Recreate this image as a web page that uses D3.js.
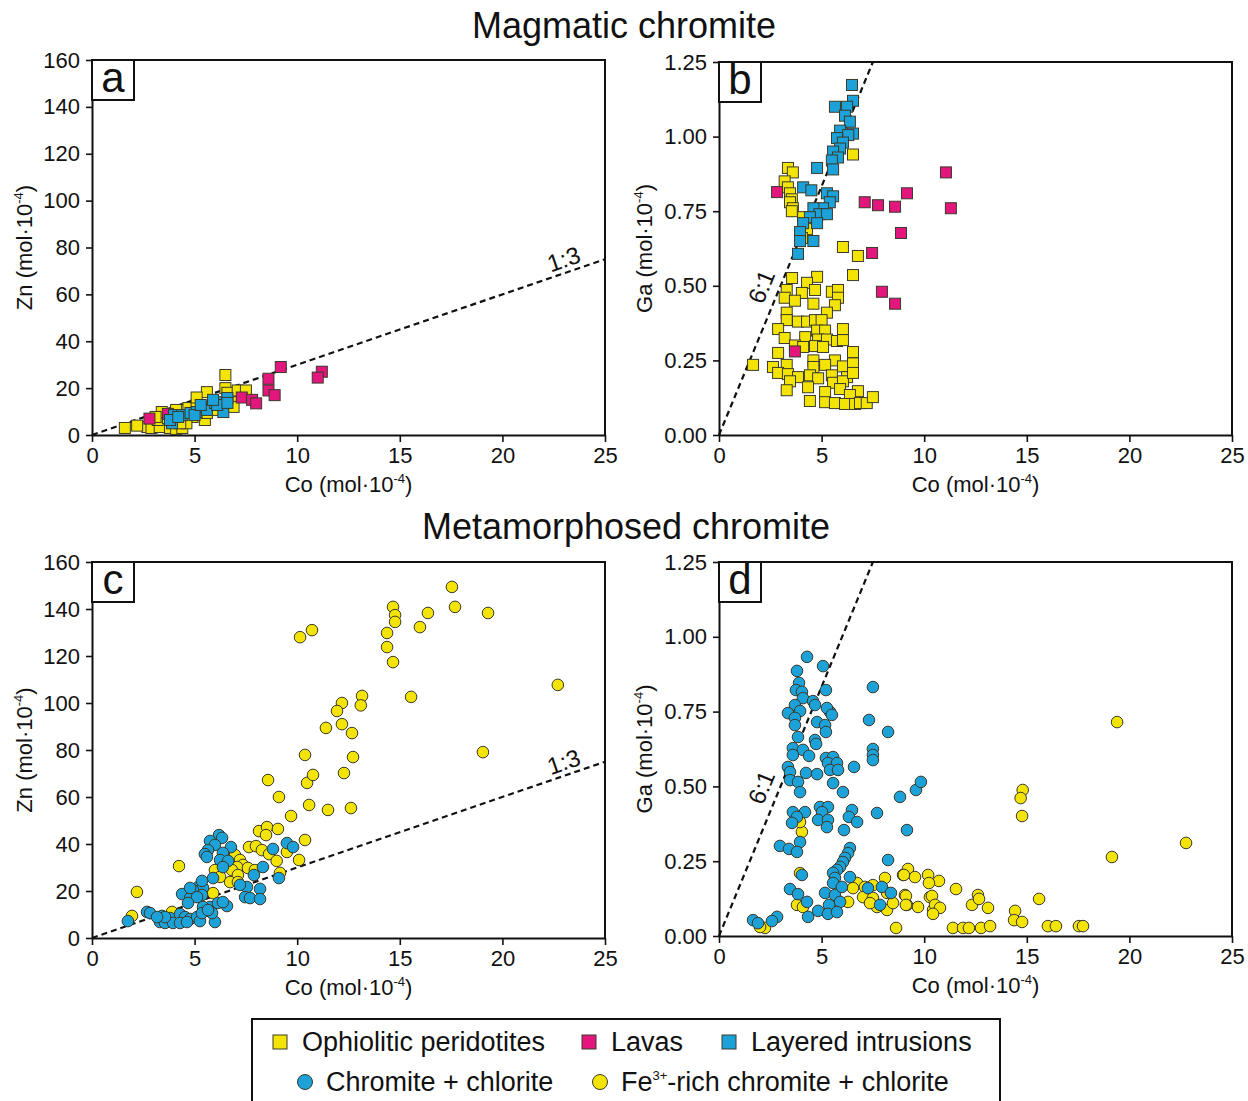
<!DOCTYPE html>
<html>
<head>
<meta charset="utf-8">
<script src="https://cdn.jsdelivr.net/npm/d3@7"></script>
<style>
body { margin: 0; background: #fff; }
text { font-family: "Liberation Sans", Arial, sans-serif; fill: #111; }
</style>
</head>
<body>
<script>
// ---- data: [Co, Zn] or [Co, Ga], all in mol·10^-4 ----
var coTicks = [0, 5, 10, 15, 20, 25];
var znTicks = [0, 20, 40, 60, 80, 100, 120, 140, 160];
var gaTicks = [0, 0.25, 0.5, 0.75, 1.0, 1.25];
var legendSquares = ["Ophiolitic peridotites", "Lavas", "Layered intrusions"];
var legendCircles = ["Chromite + chlorite", "-rich chromite + chlorite"];

// panel a - magmatic, Zn vs Co
var aOphiolitic = [[1.6,3],[2.7,3.4],[2.9,3],[3.3,3.4],[3.8,3],[4.1,2.6],[4.4,3],[3.2,6.4],[3.7,7.3],[3.4,9.8],
  [4.1,10.7],[4.3,8.5],[4.7,11.5],[5.1,12.8],[5.6,18.3],[5.5,6.4],[5.6,9.4],[6.5,25.6],[6.5,20],[6.6,18],
  [6.8,14],[6.9,12],[7.1,19],[7.5,19],[6.1,10.7],[5.9,12.8],[4.9,7.7],[4.6,5],[3.1,7.7],[5.1,16],[4.3,5],[2.2,4]];
var aLavas = [[9.2,29],[8.6,24],[8.6,19],[8.9,17],[7.3,16],[7.8,15],[8.0,13.5],[11.2,27],[11.0,24.5],[2.8,7],[3.7,9]];
var aLayered = [[3.9,5],[4.0,8.5],[4.4,8.5],[4.8,9.4],[5.1,9.8],[5.5,12],[5.6,10.7],[6.0,13.7],[6.2,14],[6.6,15.8],
  [6.4,9.8],[6.1,12.8],[5.0,8.5],[5.9,15],[3.8,6.4],[4.2,7.7],[5.3,12.8],[6.6,13.7]];

// panel b - magmatic, Ga vs Co
var bOphiolitic = [[3.36,0.895],[3.6,0.88],[3.2,0.85],[3.36,0.83],[3.46,0.81],[3.55,0.79],[3.46,0.78],[3.6,0.76],[3.55,0.75],
  [6.53,0.94],[4.1,0.73],[4.29,0.69],[4.04,0.66],[6.04,0.63],[6.77,0.6],[1.66,0.235],[3.56,0.526],[4.78,0.53],[4.29,0.51],
  [3.3,0.486],[4.04,0.476],[4.68,0.486],[5.5,0.48],[5.8,0.486],[5.8,0.46],[3.2,0.46],[3.7,0.45],[4.6,0.44],[5.65,0.435],
  [6.53,0.536],[5.26,0.41],[3.3,0.41],[3.3,0.385],[3.85,0.38],[4.29,0.38],[4.68,0.385],[5.0,0.385],[2.88,0.355],[4.78,0.35],
  [5.17,0.35],[6.04,0.355],[3.2,0.325],[4.2,0.328],[4.83,0.32],[5.26,0.32],[5.75,0.315],[6.04,0.318],[3.7,0.3],[4.1,0.295],
  [4.68,0.298],[5.07,0.295],[2.88,0.275],[6.53,0.278],[4.6,0.25],[5.65,0.25],[6.04,0.23],[5.17,0.235],[3.3,0.235],[6.53,0.24],
  [2.63,0.228],[4.6,0.228],[2.88,0.208],[3.36,0.204],[3.85,0.194],[4.43,0.2],[4.83,0.19],[5.5,0.2],[6.24,0.194],[3.46,0.18],
  [5.56,0.175],[6.04,0.18],[6.53,0.208],[4.34,0.16],[5.17,0.144],[5.9,0.154],[6.77,0.147],[3.3,0.15],[6.38,0.134],[4.43,0.114],
  [5.17,0.11],[5.65,0.107],[6.14,0.104],[6.63,0.104],[6.87,0.107],[7.2,0.107],[7.5,0.127]];
var bLavas = [[2.83,0.814],[11.06,0.88],[11.3,0.76],[7.1,0.78],[7.75,0.77],[8.58,0.765],[9.16,0.81],[8.87,0.677],
  [7.46,0.61],[7.94,0.48],[8.58,0.44],[3.7,0.28]];
var bLayered = [[6.48,1.173],[6.53,1.12],[5.65,1.10],[6.24,1.10],[6.14,1.07],[6.38,1.05],[5.9,1.02],[6.53,1.01],[6.3,1.005],
  [5.75,0.995],[6.04,0.98],[5.9,0.96],[5.56,0.95],[5.8,0.93],[5.5,0.92],[5.56,0.89],[4.78,0.895],[4.1,0.83],[4.5,0.82],
  [5.26,0.81],[5.56,0.8],[5.4,0.78],[5.07,0.76],[4.6,0.76],[4.9,0.74],[5.26,0.74],[4.43,0.73],[4.78,0.71],[4.1,0.71],
  [3.95,0.68],[4.6,0.65],[3.95,0.65],[3.85,0.607]];

// panel c - metamorphosed, Zn vs Co
var cFeRich = [[17.54,149.4],[14.67,140.9],[17.69,140.9],[19.3,138.3],[16.37,138.3],[14.77,137.4],[14.77,134.5],[15.98,132.3],
  [14.38,129.8],[14.38,123.8],[14.67,117.4],[22.7,107.7],[15.55,102.6],[19.05,79.1],[10.14,128],[10.72,131],[13.16,103],
  [13.1,99],[12.18,100],[11.94,96.6],[11.4,89.4],[12.18,91],[12.67,87.2],[10.38,77.9],[12.72,77],[8.58,67.2],[10.48,66],
  [10.77,69.4],[12.28,70.2],[9.11,60],[10.58,56.6],[11.5,54.5],[12.62,55.3],[9.7,51.9],[8.14,45.5],[8.53,47.2],[8.48,43.8],
  [9.06,46.4],[10.38,41.7],[7.65,38.7],[7.99,39.1],[8.28,37.4],[9.5,36.6],[8.63,35.7],[9.0,32.8],[10.09,33.2],[6.97,35.3],
  [7.21,33.2],[7.36,31.1],[7.07,30.2],[7.6,29.8],[6.82,28.9],[5.99,28.9],[7.11,26.8],[6.24,26],[6.73,23.8],[7.11,23.8],
  [9.16,27.7],[4.24,30.6],[2.19,19.6],[1.95,9.4],[5.9,19.1],[3.9,11.1],[7.94,28.9]];
var cChlorite = [[6.19,43.8],[6.34,42.6],[5.75,41.3],[5.99,39.6],[6.77,38.7],[5.65,37.4],[5.5,35.7],[5.6,34.5],[6.38,36.2],
  [6.24,33.2],[6.63,32.8],[6.38,30.2],[8.82,37.9],[9.5,40.4],[9.8,38.7],[8.33,30.2],[7.89,26.8],[5.9,25.5],[9.11,25.5],
  [7.55,21.7],[7.21,22.6],[8.19,20.9],[7.46,17.4],[7.7,17],[8.19,16.6],[5.17,21.7],[5.41,21.3],[4.92,20.4],[5.36,18.3],
  [4.39,18.7],[4.78,17],[5.12,17.4],[4.68,14.9],[5.75,13.2],[6.14,14.9],[6.58,13.6],[5.41,13.2],[5.99,6.8],[2.68,11.1],
  [2.83,10.6],[1.75,7.2],[3.41,9.4],[3.31,6.8],[3.8,8.5],[3.56,6.4],[3.95,6.4],[4.29,10.2],[4.53,8.9],[4.78,8.1],[5.12,8.9],
  [5.26,7.2],[4.29,6.4],[4.63,6.8],[5.85,10.6],[5.36,10.6],[5.65,11.9],[3.56,8.9],[3.17,8.9],[6.38,15.3],[4.78,21.3],[5.36,24.3]];

// panel d - metamorphosed, Ga vs Co
var dFeRich = [[4.04,0.348],[3.95,0.381],[3.95,0.21],[3.8,0.104],[4.09,0.097],[2.24,0.027],[2.0,0.03],[6.29,0.114],[6.73,0.177],
  [7.11,0.164],[7.5,0.17],[7.02,0.13],[7.5,0.127],[8.09,0.194],[7.7,0.097],[8.19,0.087],[8.48,0.11],[8.97,0.204],[9.21,0.224],
  [9.55,0.197],[9.06,0.137],[9.16,0.104],[9.7,0.097],[10.19,0.204],[10.72,0.184],[10.28,0.13],[10.43,0.087],[8.63,0.027],
  [6.53,0.16],[7.36,0.11],[8.19,0.144],[19.4,0.715],[14.8,0.488],[14.7,0.461],[14.77,0.401],[22.76,0.311],[19.15,0.264],
  [9.01,0.204],[10.23,0.177],[11.55,0.157],[9.11,0.134],[10.38,0.134],[12.62,0.137],[9.11,0.104],[10.53,0.104],[10.77,0.094],
  [10.43,0.074],[12.33,0.104],[12.67,0.124],[13.11,0.094],[15.6,0.124],[14.43,0.084],[14.38,0.053],[14.77,0.047],[11.4,0.027],
  [11.89,0.027],[12.18,0.027],[12.77,0.027],[13.21,0.033],[16.03,0.033],[16.42,0.033],[17.54,0.033],[17.74,0.033]];
var dChlorite = [[4.29,0.933],[5.07,0.902],[3.8,0.886],[3.9,0.846],[3.75,0.822],[4.04,0.816],[5.21,0.822],[4.09,0.795],[4.58,0.785],
  [3.7,0.772],[4.68,0.772],[3.36,0.745],[3.95,0.752],[3.7,0.729],[5.41,0.749],[5.26,0.762],[5.5,0.739],[7.5,0.832],[7.31,0.722],
  [8.24,0.682],[3.7,0.705],[4.78,0.715],[5.17,0.705],[5.21,0.682],[3.85,0.665],[4.68,0.655],[4.73,0.642],[3.6,0.628],[4.09,0.622],
  [3.6,0.605],[4.39,0.602],[7.5,0.625],[7.5,0.605],[7.5,0.588],[5.21,0.595],[5.56,0.598],[5.31,0.578],[5.75,0.578],[5.41,0.555],
  [5.8,0.555],[6.58,0.565],[3.36,0.565],[3.46,0.548],[4.24,0.545],[4.78,0.541],[3.46,0.521],[3.85,0.515],[3.95,0.481],[5.56,0.511],
  [6.04,0.481],[8.82,0.465],[9.6,0.488],[9.84,0.515],[3.6,0.414],[4.19,0.414],[3.8,0.398],[3.56,0.378],[4.92,0.431],[5.31,0.431],
  [5.02,0.414],[4.83,0.388],[5.31,0.388],[5.26,0.364],[6.48,0.421],[6.33,0.398],[6.73,0.381],[7.7,0.411],[6.09,0.354],[9.16,0.354],
  [3.95,0.314],[2.97,0.301],[3.41,0.291],[3.8,0.281],[6.38,0.294],[6.29,0.277],[6.14,0.261],[6.04,0.247],[5.9,0.231],[5.75,0.221],
  [5.56,0.211],[5.65,0.194],[5.56,0.177],[8.24,0.254],[4.04,0.204],[3.46,0.157],[3.85,0.14],[4.29,0.114],[5.17,0.144],[5.65,0.137],
  [5.9,0.114],[5.36,0.104],[4.83,0.084],[5.31,0.074],[5.75,0.08],[4.34,0.064],[7.94,0.164],[8.38,0.144],[7.85,0.104],[1.66,0.053],
  [1.9,0.043],[2.83,0.064],[2.58,0.05],[7.26,0.16],[5.99,0.164],[6.38,0.197]];

var YELLOW = "#f4e406", MAGENTA = "#e2167c", BLUE = "#1ca2d8", EDGE = "#3a3a2a";

var svg = d3.select("body").append("svg")
  .attr("width", 1248)
  .attr("height", 1101);

// unit label "X (mol·10^-4)" with superscript
function unitLabel(sel, el) {
  sel.append("tspan").text(el + " (mol·10");
  sel.append("tspan").attr("dy", -9).attr("font-size", "13px").text("-4");
  sel.append("tspan").attr("dy", 9).text(")");
}

function panel(p) {
  var x = d3.scaleLinear().domain([0, 25]).range([p.left, p.right]);
  var y = d3.scaleLinear().domain([0, p.ymax]).range([p.bottom, p.top]);
  var g = svg.append("g");

  // top + right frame
  g.append("path")
    .attr("d", "M" + p.left + "," + p.top + "H" + p.right + "V" + p.bottom)
    .attr("fill", "none").attr("stroke", "#111").attr("stroke-width", 2);

  var xa = g.append("g").attr("transform", "translate(0," + p.bottom + ")")
    .call(d3.axisBottom(x).tickValues(coTicks).tickSize(7).tickSizeOuter(0).tickPadding(5));
  var ya = g.append("g").attr("transform", "translate(" + p.left + ",0)")
    .call(d3.axisLeft(y).tickValues(p.ticks).tickSize(6).tickSizeOuter(0).tickPadding(6)
      .tickFormat(p.fmt));
  [xa, ya].forEach(function(a) {
    a.select(".domain").attr("stroke", "#111").attr("stroke-width", 2);
    a.selectAll(".tick line").attr("stroke", "#111").attr("stroke-width", 1.6);
    a.selectAll(".tick text").attr("font-size", "22px").attr("fill", "#111")
      .attr("font-family", "Liberation Sans, Arial, sans-serif");
  });

  // ratio line, clipped to the plot
  var end = p.ratio(25) > p.ymax ? [p.inv(p.ymax), p.ymax] : [25, p.ratio(25)];
  g.append("line")
    .attr("x1", x(0)).attr("y1", y(0))
    .attr("x2", x(end[0])).attr("y2", y(end[1]))
    .attr("stroke", "#111").attr("stroke-width", 2.2).attr("stroke-dasharray", "6,4");
  var ang = Math.atan2(y(end[1]) - y(0), x(end[0]) - x(0)) * 180 / Math.PI;
  g.append("text")
    .attr("transform", "translate(" + x(p.labelAt[0]) + "," + y(p.labelAt[1]) + ") rotate(" + ang + ")")
    .attr("y", p.labelDy).attr("text-anchor", "middle").attr("font-size", "24px")
    .text(p.ratioText);

  // marks
  p.series.forEach(function(s) {
    if (s.shape === "square") {
      g.selectAll(null).data(s.data).enter().append("rect")
        .attr("x", function(d) { return x(d[0]) - 5.5; })
        .attr("y", function(d) { return y(d[1]) - 5.5; })
        .attr("width", 11).attr("height", 11)
        .attr("fill", s.color).attr("stroke", EDGE).attr("stroke-width", 1);
    } else {
      g.selectAll(null).data(s.data).enter().append("circle")
        .attr("cx", function(d) { return x(d[0]); })
        .attr("cy", function(d) { return y(d[1]); })
        .attr("r", 5.8)
        .attr("fill", s.color).attr("stroke", EDGE).attr("stroke-width", 1);
    }
  });

  // panel letter box
  g.append("rect").attr("x", p.left).attr("y", p.top).attr("width", 42).attr("height", 40)
    .attr("fill", "#fff").attr("stroke", "#111").attr("stroke-width", 2);
  g.append("text").attr("x", p.left + 21).attr("y", p.top + 32).attr("text-anchor", "middle")
    .attr("font-size", "42px").text(p.letter);

  // axis titles
  g.append("text").attr("x", (p.left + p.right) / 2).attr("y", p.bottom + 57)
    .attr("text-anchor", "middle").attr("font-size", "22px")
    .call(unitLabel, "Co");
  g.append("text")
    .attr("transform", "translate(" + (p.left - p.titleOff) + "," + ((p.top + p.bottom) / 2) + ") rotate(-90)")
    .attr("text-anchor", "middle").attr("font-size", "22px")
    .call(unitLabel, p.yEl);
}

var znCfg = { ymax: 160, ticks: znTicks, fmt: d3.format("d"), yEl: "Zn", titleOff: 60,
  ratio: function(c) { return 3 * c; }, inv: function(v) { return v / 3; },
  ratioText: "1:3", labelAt: [23.2, 69.6], labelDy: -5 };
var gaCfg = { ymax: 1.25, ticks: gaTicks, fmt: d3.format(".2f"), yEl: "Ga", titleOff: 67,
  ratio: function(c) { return c / 6; }, inv: function(v) { return v * 6; },
  ratioText: "6:1", labelAt: [2.85, 0.475], labelDy: -9 };

panel(Object.assign({}, znCfg, { letter: "a", left: 92, right: 605, top: 60, bottom: 435,
  series: [{ shape: "square", color: YELLOW, data: aOphiolitic },
           { shape: "square", color: MAGENTA, data: aLavas },
           { shape: "square", color: BLUE, data: aLayered }] }));
panel(Object.assign({}, gaCfg, { letter: "b", left: 719, right: 1232, top: 62, bottom: 435,
  series: [{ shape: "square", color: YELLOW, data: bOphiolitic },
           { shape: "square", color: MAGENTA, data: bLavas },
           { shape: "square", color: BLUE, data: bLayered }] }));
panel(Object.assign({}, znCfg, { letter: "c", left: 92, right: 605, top: 562, bottom: 938,
  series: [{ shape: "circle", color: YELLOW, data: cFeRich },
           { shape: "circle", color: BLUE, data: cChlorite }] }));
panel(Object.assign({}, gaCfg, { letter: "d", left: 719, right: 1232, top: 562, bottom: 936,
  series: [{ shape: "circle", color: YELLOW, data: dFeRich },
           { shape: "circle", color: BLUE, data: dChlorite }] }));

// section titles
svg.append("text").attr("x", 624).attr("y", 38).attr("text-anchor", "middle")
  .attr("font-size", "36px").attr("fill", "#333").text("Magmatic chromite");
svg.append("text").attr("x", 626).attr("y", 539).attr("text-anchor", "middle")
  .attr("font-size", "36px").attr("fill", "#333").text("Metamorphosed chromite");

// legend
var lg = svg.append("g");
lg.append("rect").attr("x", 252).attr("y", 1019).attr("width", 748).attr("height", 100)
  .attr("fill", "#fff").attr("stroke", "#111").attr("stroke-width", 2);
var sqPos = [280, 589, 729], sqCol = [YELLOW, MAGENTA, BLUE];
legendSquares.forEach(function(t, i) {
  lg.append("rect").attr("x", sqPos[i] - 7).attr("y", 1035).attr("width", 14).attr("height", 14)
    .attr("fill", sqCol[i]).attr("stroke", EDGE).attr("stroke-width", 1);
  lg.append("text").attr("x", sqPos[i] + 22).attr("y", 1051).attr("font-size", "27px").text(t);
});
var ciPos = [305, 600], ciCol = [BLUE, YELLOW];
legendCircles.forEach(function(t, i) {
  lg.append("circle").attr("cx", ciPos[i]).attr("cy", 1082).attr("r", 7.5)
    .attr("fill", ciCol[i]).attr("stroke", EDGE).attr("stroke-width", 1);
  var tx = lg.append("text").attr("x", ciPos[i] + 21).attr("y", 1091).attr("font-size", "27px");
  if (i === 1) {
    tx.append("tspan").text("Fe");
    tx.append("tspan").attr("dy", -11).attr("font-size", "13px").text("3+");
    tx.append("tspan").attr("dy", 11).text(t);
  } else {
    tx.text(t);
  }
});
</script>
</body>
</html>
